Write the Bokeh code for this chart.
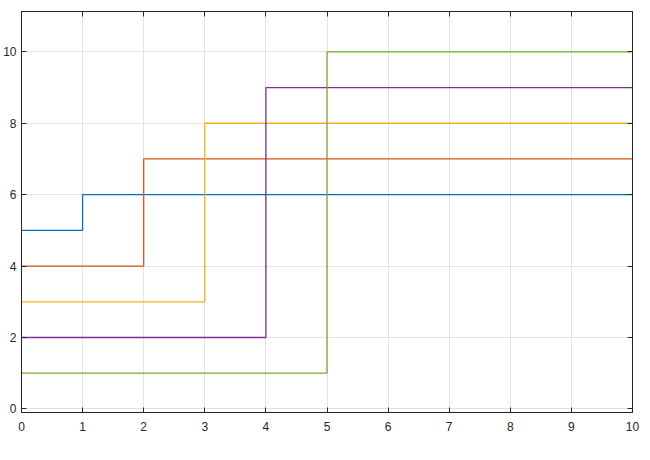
from bokeh.plotting import figure
from bokeh.models import LinearAxis, FixedTicker, Range1d
from bokeh.embed import file_html
from bokeh.resources import INLINE

x = [0, 1, 2, 3, 4, 5, 6, 7, 8, 9, 10]
s1 = [5, 6, 6, 6, 6, 6, 6, 6, 6, 6, 6]
s2 = [4, 4, 7, 7, 7, 7, 7, 7, 7, 7, 7]
s3 = [3, 3, 3, 8, 8, 8, 8, 8, 8, 8, 8]
s4 = [2, 2, 2, 2, 9, 9, 9, 9, 9, 9, 9]
s5 = [1, 1, 1, 1, 1, 10, 10, 10, 10, 10, 10]
series = [s1, s2, s3, s4, s5]
colors = ["#0072BD", "#D95319", "#EDB120", "#7E2F8E", "#77AC30"]
xticks = list(range(0, 11))
yticks = [0, 2, 4, 6, 8, 10]

p = figure(frame_width=611, frame_height=401, output_backend="svg",
           toolbar_location=None, x_range=Range1d(0, 10),
           y_range=Range1d(-0.1, 11.13),
           min_border_left=13, min_border_top=11, min_border_right=10,
           min_border_bottom=30)
p.background_fill_color = "white"
p.border_fill_color = "white"
p.outline_line_color = "#262626"
p.outline_line_width = 1

for ys, c in zip(series, colors):
    p.step(x, ys, mode="after", line_color=c, line_width=1.3)

axcol = "#262626"
for ax in [p.xaxis[0], p.yaxis[0]]:
    ax.major_tick_in = 5
    ax.major_tick_out = 0
    ax.minor_tick_in = 0
    ax.minor_tick_out = 0
    ax.axis_line_color = axcol
    ax.major_tick_line_color = axcol
    ax.major_label_text_color = axcol
    ax.major_label_text_font = "Liberation Sans"
    ax.major_label_text_font_size = "12px"
p.xaxis[0].ticker = FixedTicker(ticks=xticks)
p.yaxis[0].ticker = FixedTicker(ticks=yticks)
p.xaxis[0].major_label_standoff = 9
p.yaxis[0].major_label_standoff = 5

# top/right: ticks only (as minor ticks, which carry no labels)
top = LinearAxis(ticker=FixedTicker(ticks=[], minor_ticks=xticks))
right = LinearAxis(ticker=FixedTicker(ticks=[], minor_ticks=yticks))
for ax in [top, right]:
    ax.major_tick_in = 0
    ax.major_tick_out = 0
    ax.minor_tick_in = 5
    ax.minor_tick_out = 0
    ax.axis_line_color = axcol
    ax.minor_tick_line_color = axcol
    ax.major_label_standoff = 0
p.add_layout(top, "above")
p.add_layout(right, "right")

p.xgrid.ticker = FixedTicker(ticks=xticks)
p.ygrid.ticker = FixedTicker(ticks=yticks)
p.xgrid.grid_line_color = "#e3e3e3"
p.ygrid.grid_line_color = "#e3e3e3"

open("out.html", "w").write(file_html(p, INLINE))
